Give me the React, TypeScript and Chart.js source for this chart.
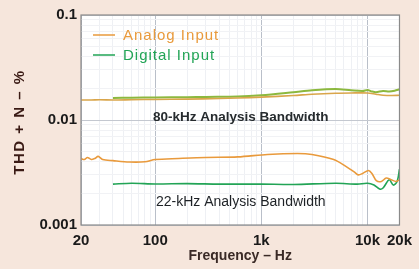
import React, { useEffect, useRef } from "react";
import { Chart, registerables } from "chart.js";

Chart.register(...registerables);

// ---- data ----
const analog80Freq = [20, 25, 30, 40, 60, 100, 200, 400, 600, 1000, 2000, 3000, 5000, 7000, 10000, 12000, 14000, 17000, 20000];
const analog80 = [0.0155, 0.0155, 0.0156, 0.0155, 0.0156, 0.0157, 0.0158, 0.016, 0.0162, 0.0165, 0.0171, 0.0176, 0.018, 0.0181, 0.0181, 0.0176, 0.0172, 0.0171, 0.0172];

const digital80Freq = [40, 60, 100, 200, 300, 600, 1000, 2000, 3000, 5000, 7000, 9000, 10000, 11000, 12000, 14000, 16000, 18000, 20000];
const digital80 = [0.0162, 0.0163, 0.0164, 0.0165, 0.0166, 0.0167, 0.0172, 0.0184, 0.0192, 0.0197, 0.0192, 0.0189, 0.0193, 0.0187, 0.0184, 0.0189, 0.0187, 0.019, 0.0196];

const analog22Freq = [20, 21.5, 23, 25, 27, 29, 32, 40, 57, 80, 100, 166, 300, 600, 1140, 2185, 3000, 4800, 6300, 7500, 8200, 9000, 10200, 11000, 12100, 13500, 15000, 16700, 18500, 20000];
const analog22 = [0.0043, 0.0042, 0.0044, 0.0042, 0.0043, 0.0045, 0.0042, 0.0041, 0.00398, 0.004, 0.0042, 0.0043, 0.0044, 0.00445, 0.0047, 0.0048, 0.0047, 0.0042, 0.0036, 0.0032, 0.003, 0.0031, 0.0033, 0.0031, 0.00265, 0.0026, 0.0028, 0.0027, 0.0026, 0.0027];

const digital22Freq = [40, 60, 100, 200, 400, 1000, 2000, 5000, 8000, 10000, 11500, 13000, 14000, 16000, 17500, 19000, 20000];
const digital22 = [0.00245, 0.0025, 0.00246, 0.00248, 0.00245, 0.00245, 0.00243, 0.0025, 0.00245, 0.0025, 0.0024, 0.0022, 0.00225, 0.0027, 0.0024, 0.0026, 0.0034];

const xTickValues = [20, 100, 1000, 10000, 20000];
const xTickText = ["20", "100", "1k", "10k", "20k"];
const xGridValues = [20, 30, 40, 50, 60, 70, 80, 90, 100, 200, 300, 400, 500, 600, 700, 800, 900, 1000, 2000, 3000, 4000, 5000, 6000, 7000, 8000, 9000, 10000, 20000];
const yTickValues = [0.001, 0.01, 0.1];
const yTickText = ["0.001", "0.01", "0.1"];
const yGridValues = [0.001, 0.002, 0.003, 0.004, 0.005, 0.006, 0.007, 0.008, 0.009, 0.01, 0.02, 0.03, 0.04, 0.05, 0.06, 0.07, 0.08, 0.09, 0.1];

const legendLabels = ["Analog Input", "Digital Input"];
const yTitle = "THD + N – %";
const xTitle = "Frequency – Hz";
const notes = [
  { text: "80-kHz Analysis Bandwidth", x: 640, y: 0.0105, bold: true },
  { text: "22-kHz Analysis Bandwidth", x: 640, y: 0.00166, bold: false },
];

const ORANGE = "#e99a3c";
const GREEN = "#22a456";
const OLIVE = "#8cb83e";
const ORANGE80 = "#d9a54a";
const FONT = "'Liberation Sans', Arial, sans-serif";

const pts = (fx: number[], vy: number[]) => fx.map((f, i) => ({ x: f, y: vy[i] }));

const bgPlugin = {
  id: "bg",
  beforeDraw(chart: any) {
    const { ctx, chartArea: a, width, height } = chart;
    ctx.save();
    ctx.fillStyle = "#f6e6dc";
    ctx.fillRect(0, 0, width, height);
    ctx.fillStyle = "#ffffff";
    ctx.fillRect(a.left, a.top, a.right - a.left, a.bottom - a.top);
    ctx.restore();
  },
  afterDraw(chart: any) {
    const { ctx, chartArea: a, scales } = chart;
    ctx.save();
    ctx.strokeStyle = "#8a8a8a";
    ctx.lineWidth = 1.2;
    ctx.strokeRect(a.left, a.top, a.right - a.left, a.bottom - a.top);
    // legend
    const cols = [ORANGE, GREEN];
    ctx.font = "15px " + FONT;
    (ctx as any).letterSpacing = "1px";
    ctx.textBaseline = "middle";
    legendLabels.forEach((t, i) => {
      const y = a.top + 20 + i * 20;
      ctx.strokeStyle = cols[i];
      ctx.lineWidth = 1.5;
      ctx.beginPath();
      ctx.moveTo(a.left + 12, y);
      ctx.lineTo(a.left + 34, y);
      ctx.stroke();
      ctx.fillStyle = cols[i];
      ctx.textAlign = "left";
      ctx.fillText(t, a.left + 42, y + 1);
    });
    // y title
    ctx.save();
    ctx.translate(20, (a.top + a.bottom) / 2 + 2);
    ctx.rotate(-Math.PI / 2);
    ctx.font = "bold 15px " + FONT;
    (ctx as any).letterSpacing = "1.5px";
    ctx.fillStyle = "#3a1a14";
    ctx.textAlign = "center";
    ctx.fillText(yTitle, 0, 0);
    ctx.restore();
    (ctx as any).letterSpacing = "0px";
    // notes
    notes.forEach((n) => {
      const x = scales.x.getPixelForValue(n.x);
      const y = scales.y.getPixelForValue(n.y);
      ctx.font = (n.bold ? "bold 13.5px " : "14px ") + FONT;
      ctx.textAlign = "center";
      ctx.fillStyle = n.bold ? "#262b2e" : "#1e2226";
      ctx.fillText(n.text, x, y);
    });
    ctx.restore();
  },
};

export default function App() {
  const ref = useRef<HTMLCanvasElement>(null);
  useEffect(() => {
    document.body.style.margin = "0";
    const ds = (label: string, data: any, color: string, w = 1.6) => ({
      label,
      data,
      borderColor: color,
      backgroundColor: color,
      borderWidth: w,
      pointRadius: 0,
      tension: 0.3,
      fill: false,
    });
    const chart = new Chart(ref.current!, {
      type: "line",
      data: {
        datasets: [
          ds("Analog 80k", pts(analog80Freq, analog80), ORANGE80),
          ds("Digital 80k", pts(digital80Freq, digital80), OLIVE, 2),
          ds("Analog 22k", pts(analog22Freq, analog22), ORANGE),
          ds("Digital 22k", pts(digital22Freq, digital22), GREEN),
        ],
      },
      options: {
        animation: false,
        responsive: false,
        maintainAspectRatio: false,
        layout: { padding: { top: 15, right: 16, left: 0, bottom: 0 } },
        plugins: { legend: { display: false }, tooltip: { enabled: false } },
        scales: {
          x: {
            type: "logarithmic",
            min: 20,
            max: 20000,
            afterBuildTicks: (s: any) => {
              s.ticks = xGridValues.map((v) => ({ value: v }));
            },
            afterFit: (s: any) => {
              s.height = 44;
            },
            grid: {
              drawTicks: false,
              color: (c: any) => (xTickValues.includes(c.tick?.value) ? "#b9bfc9" : "#eef0f4"),
            },
            border: { display: false },
            ticks: {
              autoSkip: false,
              maxRotation: 0,
              padding: 7,
              color: "#1a1a1a",
              font: { family: FONT, size: 15, weight: "bold" },
              callback: (v: any) => {
                const i = xTickValues.indexOf(Number(v));
                return i >= 0 ? xTickText[i] : "";
              },
            },
            title: {
              display: true,
              text: xTitle,
              color: "#3a2a26",
              padding: { top: 0, bottom: 4 },
              font: { family: FONT, size: 14, weight: "bold" },
            },
          },
          y: {
            type: "logarithmic",
            min: 0.001,
            max: 0.1,
            afterBuildTicks: (s: any) => {
              s.ticks = yGridValues.map((v) => ({ value: v }));
            },
            afterFit: (s: any) => {
              s.width = 81;
            },
            grid: {
              drawTicks: false,
              color: (c: any) => (yTickValues.includes(c.tick?.value) ? "#c4c8d0" : "#f1f2f5"),
            },
            border: { display: false },
            ticks: {
              autoSkip: false,
              padding: 4,
              color: "#1a1a1a",
              font: { family: FONT, size: 15, weight: "bold" },
              callback: (v: any) => {
                const i = yTickValues.findIndex((t) => Math.abs(t - Number(v)) < t * 1e-6);
                return i >= 0 ? yTickText[i] : "";
              },
            },
            title: { display: false },
          },
        },
      } as any,
      plugins: [bgPlugin],
    });
    return () => chart.destroy();
  }, []);
  return <canvas ref={ref} width={419} height={269} style={{ display: "block" }} />;
}
